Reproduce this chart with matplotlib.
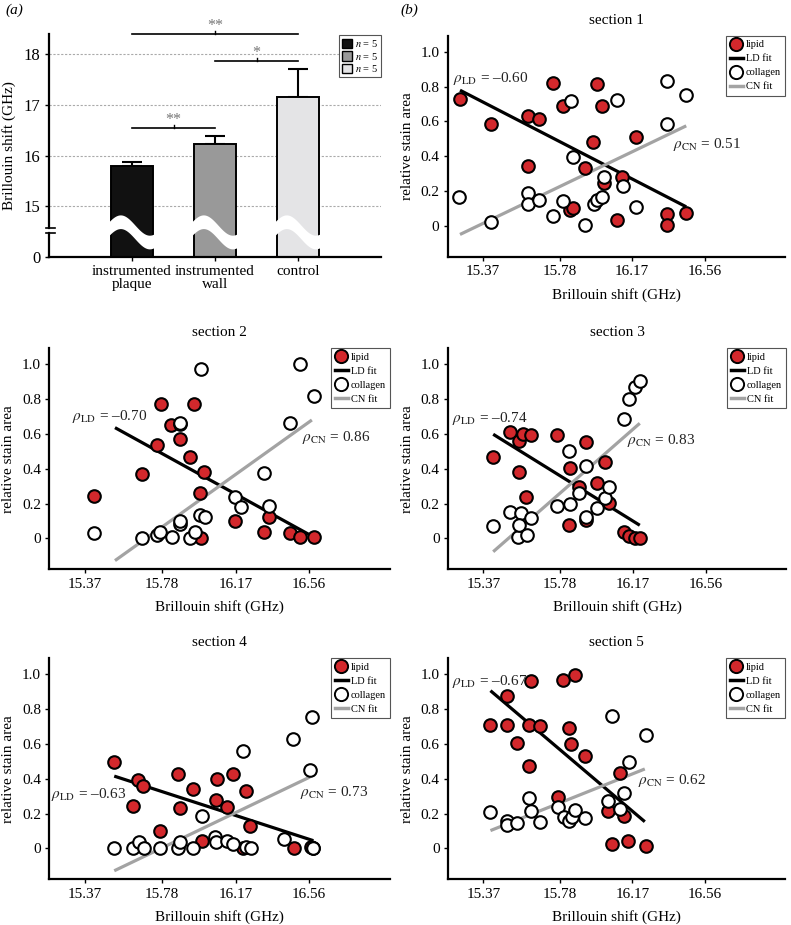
import numpy as np
import matplotlib
matplotlib.use("Agg")
import matplotlib.pyplot as plt
from matplotlib.patches import Patch
from matplotlib.lines import Line2D

plt.rcParams["font.family"] = "serif"
plt.rcParams["font.serif"] = ["Liberation Serif", "DejaVu Serif"]
plt.rcParams["mathtext.fontset"] = "stix"

# ---------------- data: panel (a) ----------------
groups = ["instrumented\nplaque", "instrumented\nwall", "control"]
shift_mean = [15.80, 16.23, 17.15]
shift_err = [0.07, 0.15, 0.55]
n_samples = [5, 5, 5]
sig_pairs = [(0, 2), (1, 2), (0, 1)]
sig_labels = ["**", "*", "**"]

# ---------------- data: panel (b), sections 1-5 ----------------
s1_lipid_x = [15.246, 15.41, 15.609, 15.668, 15.609, 15.747, 15.80, 15.834, 15.852, 15.916,
              15.96, 15.981, 16.01, 16.017, 16.116, 16.091, 16.19, 16.357, 16.357, 16.457]
s1_lipid_y = [0.728, 0.584, 0.632, 0.613, 0.345, 0.822, 0.692, 0.090, 0.100, 0.333,
              0.481, 0.818, 0.692, 0.247, 0.282, 0.033, 0.511, 0.065, 0.002, 0.071]
s1_coll_x = [15.242, 15.414, 15.609, 15.609, 15.668, 15.746, 15.80, 15.84, 15.852, 15.916,
             15.964, 15.981, 16.008, 16.02, 16.091, 16.123, 16.19, 16.357, 16.357, 16.457]
s1_coll_y = [0.167, 0.023, 0.186, 0.128, 0.148, 0.057, 0.142, 0.716, 0.393, 0.002,
             0.125, 0.148, 0.163, 0.282, 0.726, 0.230, 0.109, 0.831, 0.588, 0.755]
s1_ld_fit = ([15.246, 16.46], [0.78, 0.109])
s1_cn_fit = ([15.246, 16.46], [-0.05, 0.575])
s1_rho = (-0.60, 0.51)

s2_lipid_x = [15.418, 15.671, 15.751, 15.772, 15.825, 15.872, 15.872, 15.925, 15.951, 15.978,
              16.004, 15.987, 16.168, 16.318, 16.345, 16.46, 16.51, 16.584]
s2_lipid_y = [0.243, 0.370, 0.536, 0.772, 0.649, 0.657, 0.569, 0.469, 0.770, 0.262,
              0.379, 0.0, 0.100, 0.034, 0.124, 0.029, 0.006, 0.006]
s2_coll_x = [15.418, 15.671, 15.751, 15.769, 15.831, 15.872, 15.875, 15.925, 15.955, 15.978,
             16.008, 15.987, 16.168, 16.198, 16.318, 16.345, 16.46, 16.51, 16.584, 15.875]
s2_coll_y = [0.029, 0.004, 0.019, 0.038, 0.010, 0.082, 0.100, 0.004, 0.038, 0.134,
             0.125, 0.973, 0.236, 0.178, 0.374, 0.183, 0.661, 1.0, 0.818, 0.665]
s2_ld_fit = ([15.529, 16.575], [0.636, 0.013])
s2_cn_fit = ([15.529, 16.575], [-0.128, 0.680])
s2_rho = (-0.70, 0.86)

s3_lipid_x = [15.422, 15.514, 15.56, 15.581, 15.626, 15.558, 15.596, 15.764, 15.835, 15.83,
              15.883, 15.918, 15.918, 15.977, 16.021, 16.042, 16.122, 16.149, 16.181, 16.207]
s3_lipid_y = [0.466, 0.609, 0.559, 0.598, 0.594, 0.379, 0.239, 0.594, 0.402, 0.077,
              0.293, 0.556, 0.105, 0.316, 0.441, 0.201, 0.034, 0.013, 0.004, 0.004]
s3_coll_x = [15.422, 15.514, 15.554, 15.571, 15.558, 15.604, 15.626, 15.764, 15.835, 15.83,
             15.879, 15.918, 15.918, 15.977, 16.021, 16.042, 16.122, 16.149, 16.181, 16.207]
s3_coll_y = [0.071, 0.149, 0.006, 0.144, 0.077, 0.019, 0.119, 0.186, 0.197, 0.504,
             0.262, 0.416, 0.125, 0.172, 0.230, 0.297, 0.684, 0.801, 0.868, 0.906]
s3_ld_fit = ([15.422, 16.207], [0.598, 0.075])
s3_cn_fit = ([15.422, 16.207], [-0.077, 0.661])
s3_rho = (-0.74, 0.83)

s4_lipid_x = [15.525, 15.626, 15.649, 15.679, 15.768, 15.865, 15.874, 15.941, 15.989, 16.064,
              16.069, 16.122, 16.158, 16.211, 16.225, 16.246, 16.482, 16.571, 16.583]
s4_lipid_y = [0.496, 0.246, 0.390, 0.356, 0.098, 0.429, 0.233, 0.342, 0.040, 0.279,
              0.400, 0.240, 0.429, 0.0, 0.329, 0.131, 0.0, 0.006, 0.0]
s4_coll_x = [15.525, 15.626, 15.658, 15.682, 15.768, 15.865, 15.874, 15.941, 15.989, 16.060,
             16.065, 16.122, 16.158, 16.211, 16.225, 16.25, 16.429, 16.477, 16.565, 16.574, 16.583]
s4_coll_y = [0.0, 0.0, 0.035, 0.0, 0.0, 0.0, 0.035, 0.0, 0.188, 0.067,
             0.035, 0.040, 0.025, 0.558, 0.006, 0.0, 0.054, 0.627, 0.448, 0.756, 0.0]
s4_ld_fit = ([15.525, 16.583], [0.415, 0.044])
s4_cn_fit = ([15.525, 16.565], [-0.129, 0.41])
s4_rho = (-0.63, 0.73)

s5_lipid_x = [15.408, 15.498, 15.498, 15.551, 15.613, 15.626, 15.617, 15.674, 15.771, 15.799,
              15.86, 15.83, 15.842, 15.918, 16.042, 16.06, 16.104, 16.127, 16.149, 16.243]
s5_lipid_y = [0.709, 0.875, 0.709, 0.603, 0.709, 0.964, 0.475, 0.703, 0.297, 0.967,
              0.996, 0.690, 0.600, 0.533, 0.215, 0.023, 0.431, 0.186, 0.044, 0.013]
s5_coll_x = [15.408, 15.498, 15.498, 15.551, 15.617, 15.626, 15.674, 15.773, 15.803, 15.83,
             15.844, 15.86, 15.918, 16.042, 16.06, 16.106, 16.127, 16.154, 16.243]
s5_coll_y = [0.207, 0.159, 0.134, 0.144, 0.291, 0.215, 0.153, 0.239, 0.182, 0.157,
             0.182, 0.220, 0.172, 0.274, 0.761, 0.224, 0.316, 0.494, 0.649]
s5_ld_fit = ([15.408, 16.237], [0.906, 0.153])
s5_cn_fit = ([15.408, 16.237], [0.102, 0.456])
s5_rho = (-0.67, 0.62)

x_ticks = [15.37, 15.78, 16.17, 16.56]
y_ticks = [0, 0.2, 0.4, 0.6, 0.8, 1.0]

# ---------------- layout ----------------
W, H = 791, 925
RED = "#d3282c"
GREY_FIT = "#a3a3a3"
BAR_COLORS = ["#111111", "#999999", "#e4e4e6"]


def rect(x0, y0, x1, y1):
    return [x0 / W, 1 - y1 / H, (x1 - x0) / W, (y1 - y0) / H]


sections = [
    ("section 1", s1_lipid_x, s1_lipid_y, s1_coll_x, s1_coll_y, s1_ld_fit, s1_cn_fit, s1_rho,
     rect(447.7, 36, 785, 256.7), (15.21, 0.85), (16.39, 0.47)),
    ("section 2", s2_lipid_x, s2_lipid_y, s2_coll_x, s2_coll_y, s2_ld_fit, s2_cn_fit, s2_rho,
     rect(49.3, 348.3, 390, 569.3), (15.30, 0.70), (16.52, 0.58)),
    ("section 3", s3_lipid_x, s3_lipid_y, s3_coll_x, s3_coll_y, s3_ld_fit, s3_cn_fit, s3_rho,
     rect(448, 348.3, 786, 569.3), (15.20, 0.69), (16.14, 0.565)),
    ("section 4", s4_lipid_x, s4_lipid_y, s4_coll_x, s4_coll_y, s4_ld_fit, s4_cn_fit, s4_rho,
     rect(49.3, 658.3, 390, 879.3), (15.19, 0.31), (16.51, 0.32)),
    ("section 5", s5_lipid_x, s5_lipid_y, s5_coll_x, s5_coll_y, s5_ld_fit, s5_cn_fit, s5_rho,
     rect(448, 658.3, 785, 879.3), (15.20, 0.96), (16.20, 0.39)),
]

fig = plt.figure(figsize=(W / 100, H / 100), dpi=100)


def style_axes(ax):
    for side in ("top", "right"):
        ax.spines[side].set_visible(False)
    for side in ("left", "bottom"):
        ax.spines[side].set_linewidth(1.6)
    ax.tick_params(direction="out", length=3, width=1.0, labelsize=11, pad=3)


# ---------------- panel (a) ----------------
ax = fig.add_axes(rect(49, 34.3, 381, 257))
style_axes(ax)
ax.spines["left"].set_visible(False)
xpos = np.arange(len(groups))
bar_w = 0.5
base = 14.0
top = 18.39
ax.set_xlim(-1, 3)
ax.set_ylim(base, top)

for g in [15, 16, 17, 18]:
    ax.axhline(g, color="#aaaaaa", lw=0.8, ls=(0, (2, 1.5)), zorder=0)

ax.errorbar(xpos, shift_mean, yerr=[np.zeros(3), shift_err], fmt="none",
            ecolor="black", elinewidth=1.5, capsize=7, capthick=1.5, zorder=1)
ax.bar(xpos, shift_mean, width=bar_w, color=BAR_COLORS, edgecolor="black",
       linewidth=1.4, zorder=2)

# wavy white break through each bar
t = np.linspace(0, 1, 100)
for xc in xpos:
    xs = xc - bar_w / 2 - 0.03 + t * (bar_w + 0.06)
    upper = 14.63 + 0.2 * np.sin(2 * np.pi * (t * 0.8 + 0.05))
    ax.fill_between(xs, upper - 0.27, upper, color="white", lw=0, zorder=3)

# y axis with break marks
yt = ax.get_yaxis_transform()
ax.plot([0, 0], [base, 14.47], color="black", lw=1.6, transform=yt, clip_on=False)
ax.plot([0, 0], [14.566, top], color="black", lw=1.6, transform=yt, clip_on=False)
for yb in (14.47, 14.566):
    ax.plot([-0.008, 0.018], [yb, yb], color="black", lw=1.2, transform=yt, clip_on=False)

ax.set_yticks([14, 15, 16, 17, 18])
ax.set_yticklabels(["0", "15", "16", "17", "18"])
ax.tick_params(axis="y", length=3, pad=3, labelsize=12)
ax.set_xticks(xpos)
ax.set_xticklabels(groups, fontsize=11, linespacing=1.0)
ax.set_ylabel("Brillouin shift (GHz)", fontsize=11)
ax.yaxis.set_label_coords(-0.1, 0.5)

sig_y = [18.40, 17.87, 16.55]
for (i, j), lab, yy in zip(sig_pairs, sig_labels, sig_y):
    ax.plot([i, j], [yy, yy], color="black", lw=1.2, clip_on=False, zorder=4)
    ax.plot([(i + j) / 2] * 2, [yy, yy + 0.05], color="black", lw=1.0, clip_on=False, zorder=4)
    ax.text((i + j) / 2, yy + 0.0, lab, ha="center", va="bottom", fontsize=11.5,
            color="#777777", clip_on=False)

leg_handles = [Patch(facecolor=c, edgecolor="black", lw=1.0) for c in BAR_COLORS]
leg_labels = [rf"$n$ = {n}" for n in n_samples]
lg = ax.legend(leg_handles, leg_labels, loc="upper right", bbox_to_anchor=(1.0, 0.995),
               fontsize=7.5, handlelength=1.0, handleheight=1.0, handletextpad=0.3,
               labelspacing=0.15, borderpad=0.25, borderaxespad=0, fancybox=False,
               framealpha=1, edgecolor="#555555")
lg.get_frame().set_linewidth(0.8)

fig.text(5 / W, 1 - 10 / H, "(a)", fontsize=11, style="italic", va="center")
fig.text(400 / W, 1 - 10 / H, "(b)", fontsize=11, style="italic", va="center")

# ---------------- panel (b) ----------------
for (title, lx, ly, cx, cy, ld_fit, cn_fit, rho, r, ld_pos, cn_pos) in sections:
    ax = fig.add_axes(r)
    style_axes(ax)
    ax.set_xlim(15.18, 16.99)
    ax.set_ylim(-0.178, 1.092)
    ax.plot(*ld_fit, color="black", lw=2.3, solid_capstyle="butt", zorder=2)
    ax.plot(*cn_fit, color=GREY_FIT, lw=2.3, solid_capstyle="butt", zorder=2)
    ax.scatter(lx, ly, s=82, facecolor=RED, edgecolor="black", linewidth=1.5, zorder=3)
    ax.scatter(cx, cy, s=82, facecolor="white", edgecolor="black", linewidth=1.5, zorder=4)

    ax.set_xticks(x_ticks)
    ax.set_xticklabels([f"{v:.2f}" for v in x_ticks])
    ax.set_yticks(y_ticks)
    ax.set_yticklabels(["0"] + [f"{v:.1f}" for v in y_ticks[1:]])
    ax.set_xlabel("Brillouin shift (GHz)", fontsize=11, labelpad=7)
    ax.set_ylabel("relative stain area", fontsize=11)
    ax.yaxis.set_label_coords(-0.1, 0.5)
    ax.set_title(title, fontsize=11, pad=9)

    ax.text(*ld_pos, rf"$\rho_{{\mathrm{{LD}}}}$ = –{abs(rho[0]):.2f}", fontsize=11,
            ha="left", va="center", color="#222222", zorder=2.5)
    ax.text(*cn_pos, rf"$\rho_{{\mathrm{{CN}}}}$ = {rho[1]:.2f}", fontsize=11,
            ha="left", va="center", color="#222222", zorder=2.5)

    handles = [
        Line2D([], [], ls="none", marker="o", ms=9.5, mfc=RED, mec="black", mew=1.4),
        Line2D([], [], color="black", lw=2.5),
        Line2D([], [], ls="none", marker="o", ms=9.5, mfc="white", mec="black", mew=1.4),
        Line2D([], [], color=GREY_FIT, lw=2.5),
    ]
    lg = ax.legend(handles, ["lipid", "LD fit", "collagen", "CN fit"], loc="upper right",
                   bbox_to_anchor=(1.0, 1.0), fontsize=7.5, handlelength=1.2,
                   handletextpad=0.3, labelspacing=0.45, borderpad=0.4, borderaxespad=0,
                   fancybox=False, framealpha=1, edgecolor="#555555")
    lg.get_frame().set_linewidth(0.8)

fig.savefig("out.png", dpi=100)
